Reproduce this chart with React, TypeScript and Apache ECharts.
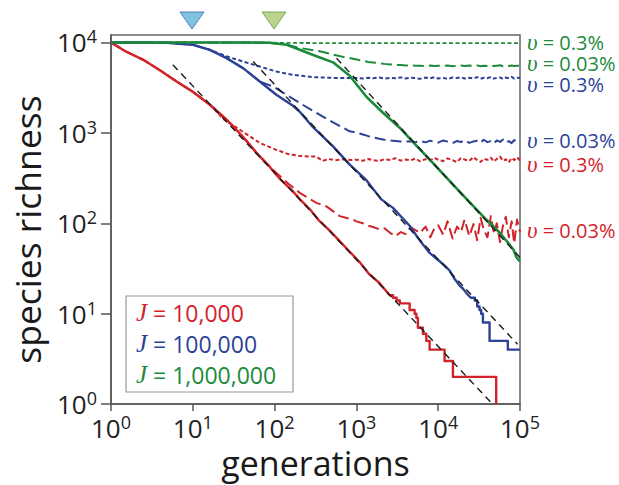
import React, { useEffect, useRef } from 'react';
import * as echarts from 'echarts';

// ---------- data ----------
const X_TICKS = [1, 10, 100, 1000, 10000, 100000];
const Y_TICKS = [1, 10, 100, 1000, 10000];

// shared generation grid for the equilibrium (noisy) parts
const PX = [1000, 1200, 1400, 1600, 1900, 2200, 2600, 3000, 3500, 4000, 4600, 5300, 6000, 7000, 8000, 9000, 10000, 11500, 13000, 15000, 17000, 19000, 21000, 24000, 27000, 30000, 33000, 36000, 40000, 44000, 48000, 52000, 57000, 62000, 67000, 73000, 79000, 85000, 92000, 100000];

// J = 10,000
const RED_SOLID = [[1, 10000], [1.5, 8000], [2.48, 6430], [4, 4900], [6.34, 3700], [10, 2850], [16.2, 2047], [25.9, 1400], [37, 1000], [49.8, 741], [60, 600], [87.4, 420], [120, 300], [160, 236], [203, 185], [270, 143], [350, 107], [472, 83], [600, 66], [828, 48.5], [1100, 37], [1453, 27], [1900, 22], [2552, 16], [2800, 16], [2800, 15], [3100, 15], [3100, 14], [3400, 14], [3400, 13], [4475, 13], [4475, 11], [5150, 11], [5150, 10], [5410, 10], [5410, 9], [5650, 9], [5650, 7], [6500, 7], [6500, 6], [7160, 6], [7160, 5], [7850, 5], [7850, 4], [11970, 4], [11970, 3], [15140, 3], [15140, 2], [51200, 2], [51200, 1]];
const RED_SHORT_HEAD = [[1, 10000], [1.5, 8000], [2.48, 6430], [4, 4900], [6.34, 3700], [10, 2850], [16.2, 2047], [23.5, 1430], [37.6, 1084], [65.9, 774], [100, 660], [153, 575], [230, 550], [325, 546], [388, 490], [450, 515], [550, 498], [700, 512], [850, 500]];
const RED_SHORT_TAIL = [505, 492, 515, 498, 488, 512, 500, 525, 494, 508, 497, 520, 485, 512, 495, 530, 502, 488, 522, 498, 476, 528, 508, 490, 540, 500, 478, 518, 503, 532, 482, 514, 546, 490, 510, 472, 528, 500, 538, 494];
const RED_LONG_HEAD = [[1, 10000], [1.5, 8000], [2.48, 6430], [4, 4900], [6.34, 3700], [10, 2850], [16.2, 2047], [25.9, 1400], [37, 1000], [49.8, 741], [60, 605], [80, 460], [105, 361], [150, 270], [203, 217], [325, 168], [430, 154], [625, 120], [901, 110]];
const RED_LONG_TAIL = [105, 100, 94, 91, 86, 88, 78, 72, 80, 76, 90, 84, 78, 92, 70, 88, 95, 75, 105, 68, 92, 80, 110, 72, 98, 65, 115, 85, 70, 120, 78, 100, 62, 95, 118, 70, 105, 60, 110, 80];

// J = 100,000
const BLUE_SOLID = [[1, 10000], [4.79, 9950], [10.1, 9410], [16.2, 8280], [25.9, 6710], [41.2, 5200], [65.9, 3700], [105, 2640], [168, 1995], [203, 1714], [295, 1156], [518, 710], [828, 445], [1325, 300], [2000, 185], [2798, 148], [4475, 94], [6000, 64], [7850, 47], [10400, 38], [12000, 34], [13800, 30], [16000, 24], [18250, 20.5], [20000, 19], [22000, 17], [25000, 15], [28000, 15], [28000, 14], [30000, 14], [30000, 12], [32000, 12], [32000, 11], [33500, 11], [33500, 10], [35200, 10], [35200, 8], [42450, 8], [42450, 5], [71000, 5], [71000, 4], [100000, 4]];
const BLUE_SHORT_HEAD = [[1, 10000], [4.79, 9950], [10.1, 9410], [16.2, 8280], [25.9, 7030], [41.2, 6150], [65.9, 5420], [105, 4775], [168, 4390], [295, 4140], [500, 4060], [828, 4035]];
const BLUE_SHORT_TAIL = [4050, 4000, 4080, 4020, 4100, 3980, 4060, 4030, 4110, 3990, 4070, 4040, 3960, 4090, 4020, 4120, 4000, 4060, 3950, 4100, 4040, 4130, 3990, 4070, 4010, 4140, 3970, 4080, 4030, 4150, 3980, 4060, 4110, 3940, 4090, 4020, 4160, 3990, 4070, 4040];
const BLUE_LONG_HEAD = [[1, 10000], [4.79, 9950], [10.1, 9410], [16.2, 8280], [25.9, 6710], [41.2, 5200], [65.9, 3700], [95.9, 3260], [203, 2138], [430, 1435], [828, 1040]];
const BLUE_LONG_TAIL = [1010, 960, 920, 890, 860, 840, 825, 815, 805, 800, 810, 790, 815, 785, 820, 795, 780, 825, 800, 770, 815, 790, 830, 775, 805, 820, 780, 840, 790, 810, 765, 825, 795, 845, 780, 810, 770, 835, 790, 815];

// J = 1,000,000
const GREEN_SOLID = [[1, 10000], [50, 9990], [87.4, 9920], [141, 9450], [203, 8300], [325, 7050], [518, 6030], [828, 4280], [1325, 2510], [2113, 1671], [3380, 1141], [5410, 722], [8300, 481], [18250, 224], [38650, 110], [56200, 79], [74400, 58.3], [83300, 51], [90600, 41.9], [100000, 37.9]];
const GREEN_SHORT = [[1, 10000], [50, 9990], [141, 9900], [300, 9860], [1000, 9840], [10000, 9830], [100000, 9820]];
const GREEN_LONG_HEAD = [[1, 10000], [50, 9990], [87.4, 9920], [141, 9450], [203, 8710], [356, 7980], [686, 6935]];
const GREEN_LONG_TAIL = [6500, 6250, 6100, 6000, 5900, 5800, 5720, 5660, 5620, 5580, 5560, 5540, 5530, 5500, 5560, 5480, 5540, 5510, 5580, 5470, 5530, 5560, 5490, 5550, 5500, 5580, 5460, 5540, 5510, 5570, 5480, 5530, 5590, 5470, 5550, 5500, 5560, 5490, 5540, 5520];

// asymptotic power-law guides (black dashed)
const RED_THEORY = [[5.71, 5660], [46150, 1]];
const BLUE_THEORY = [[54.7, 6150], [93250, 4.6]];
const GREEN_THEORY = [[570, 6710], [100000, 41.9]];

const LEGEND_LABELS = ['10,000', '100,000', '1,000,000'];
const RATE_LABELS = ['0.3%', '0.03%', '0.3%', '0.03%', '0.3%', '0.03%'];

// ---------- styles ----------
const RED = '#d2232a';
const BLUE = '#2c4297';
const GREEN = '#1b8a3a';
const AXIS = '#555555';
const SANS = '"Open Sans", "DejaVu Sans", sans-serif';
const SERIF = '"Liberation Serif", "DejaVu Serif", serif';

const withTail = (head: number[][], tail: number[]) =>
  head.concat(PX.map((x, i) => [x, tail[i]]));

const line = (name: string, data: number[][], color: string, dash: any, width = 2, z = 2) => ({
  name,
  type: 'line',
  data,
  symbol: 'none',
  showSymbol: false,
  silent: true,
  z,
  lineStyle: { color, width, type: dash, cap: 'butt', join: 'round' },
});

const SHORT = [4, 2.5];
const LONG = [11, 5];

export default function App() {
  const ref = useRef<HTMLDivElement>(null);
  useEffect(() => {
    const chart = echarts.init(ref.current!, null, { renderer: 'svg' });
    const tickRich = {
      b: { fontSize: 26, fontFamily: SANS, color: '#222', lineHeight: 30, verticalAlign: 'middle' },
      s: { fontSize: 18, fontFamily: SANS, color: '#222', lineHeight: 20, verticalAlign: 'top' },
    };
    const fmt = (v: number) => `{b|10}{s|${Math.round(Math.log10(v))}}`;

    const rateLabel = (i: number, color: string, y: number) => ({
      type: 'text',
      left: 527,
      top: y - 9,
      style: {
        text: `{u|υ}{t| = ${RATE_LABELS[i]}}`,
        rich: {
          u: { fontFamily: SERIF, fontStyle: 'italic', fontSize: 23, fill: color, lineHeight: 18 },
          t: { fontFamily: SANS, fontSize: 20, fill: color, lineHeight: 18 },
        },
      },
    });
    const legendLabel = (i: number, color: string, y: number) => ({
      type: 'text',
      left: 136,
      top: y - 15,
      style: {
        text: `{j|J}{t| = ${LEGEND_LABELS[i]}}`,
        rich: {
          j: { fontFamily: SERIF, fontStyle: 'italic', fontSize: 25, fill: color, lineHeight: 30 },
          t: { fontFamily: SANS, fontSize: 23, fill: color, lineHeight: 30 },
        },
      },
    });

    chart.setOption({
      animation: false,
      backgroundColor: '#ffffff',
      grid: {
        left: 111, right: 99, top: 35, bottom: 80,
        show: true, borderColor: '#666666', borderWidth: 1.5, backgroundColor: 'transparent',
      },
      xAxis: {
        type: 'log', logBase: 10, min: 1, max: 100000,
        axisLine: { show: true, onZero: false, lineStyle: { color: AXIS, width: 1.5 } },
        axisTick: { show: true, inside: false, length: 7, lineStyle: { color: AXIS, width: 1.5 }, customValues: X_TICKS },
        minorTick: { show: false },
        axisLabel: { customValues: X_TICKS, margin: 9, formatter: fmt, rich: tickRich, hideOverlap: false },
        splitLine: { show: false },
        name: 'generations',
        nameLocation: 'middle',
        nameGap: 40,
        nameTextStyle: { fontFamily: SANS, fontSize: 34, color: '#1a1a1a' },
      },
      yAxis: {
        type: 'log', logBase: 10, min: 1, max: 12100,
        axisLine: { show: true, onZero: false, lineStyle: { color: AXIS, width: 1.5 } },
        axisTick: { show: true, inside: false, length: 10, lineStyle: { color: AXIS, width: 1.5 }, customValues: Y_TICKS },
        minorTick: { show: false },
        axisLabel: { customValues: Y_TICKS, margin: 14, formatter: fmt, rich: tickRich },
        splitLine: { show: false },
        name: 'species richness',
        nameLocation: 'middle',
        nameRotate: 90,
        nameGap: 66,
        nameTextStyle: { fontFamily: SANS, fontSize: 35.5, color: '#1a1a1a', padding: [0, 20, 0, 0] },
      },
      series: [
        line('J1e4 v0.3%', withTail(RED_SHORT_HEAD, RED_SHORT_TAIL), RED, SHORT, 2),
        line('J1e4 v0.03%', withTail(RED_LONG_HEAD, RED_LONG_TAIL), RED, LONG, 2),
        line('J1e5 v0.3%', withTail(BLUE_SHORT_HEAD, BLUE_SHORT_TAIL), BLUE, SHORT, 2),
        line('J1e5 v0.03%', withTail(BLUE_LONG_HEAD, BLUE_LONG_TAIL), BLUE, LONG, 2),
        line('J1e6 v0.3%', GREEN_SHORT, GREEN, SHORT, 1.8),
        line('J1e6 v0.03%', withTail(GREEN_LONG_HEAD, GREEN_LONG_TAIL), GREEN, LONG, 2),
        line('J1e4', RED_SOLID, RED, 'solid', 2.4, 3),
        line('J1e5', BLUE_SOLID, BLUE, 'solid', 2.4, 3),
        line('J1e6', GREEN_SOLID, GREEN, 'solid', 2.6, 3),
        line('theory J1e4', RED_THEORY, '#1a1a1a', [7, 5], 1.4, 4),
        line('theory J1e5', BLUE_THEORY, '#1a1a1a', [7, 5], 1.4, 4),
        line('theory J1e6', GREEN_THEORY, '#1a1a1a', [7, 5], 1.4, 4),
      ],
      graphic: [
        { type: 'polygon', shape: { points: [[180, 12], [204, 12], [192, 29]] }, style: { fill: '#80c3df', stroke: '#4d7fbf', lineWidth: 1 } },
        { type: 'polygon', shape: { points: [[262, 12], [286, 12], [274, 29]] }, style: { fill: '#b8d48e', stroke: '#7fa958', lineWidth: 1 } },
        rateLabel(0, GREEN, 40),
        rateLabel(1, GREEN, 61),
        rateLabel(2, BLUE, 82),
        rateLabel(3, BLUE, 138),
        rateLabel(4, RED, 162),
        rateLabel(5, RED, 228),
        { type: 'rect', shape: { x: 126, y: 296, width: 167, height: 96 }, style: { fill: '#ffffff', stroke: '#9a9a9a', lineWidth: 1.2 }, z: 10 },
        { ...legendLabel(0, RED, 315), z: 11 },
        { ...legendLabel(1, BLUE, 346), z: 11 },
        { ...legendLabel(2, GREEN, 377), z: 11 },
      ],
    });
    return () => chart.dispose();
  }, []);
  return <div ref={ref} style={{ position: 'fixed', left: 0, top: 0, width: 619, height: 485 }} />;
}
